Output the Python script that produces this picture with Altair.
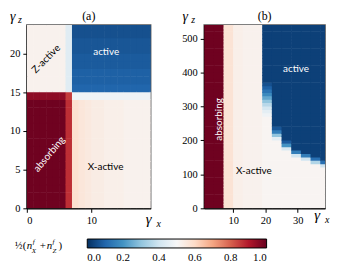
import altair as alt
import pandas as pd

# ---------------- data ----------------
# Panel (a): columns of width 1 (gamma_x), rows of height 1 (gamma_z)
a_cols = list(range(20))
a_rows = list(range(24))
a_low = [0.99, 0.99, 0.99, 0.99, 0.99, 0.99, 0.87,
         0.58, 0.56, 0.55, 0.54, 0.54, 0.53, 0.53, 0.53, 0.52, 0.52, 0.52, 0.52, 0.52]
a_edge = [0.95, 0.95, 0.95, 0.95, 0.95, 0.95, 0.85,
          0.48, 0.48, 0.48, 0.48, 0.48, 0.48, 0.48, 0.48, 0.48, 0.48, 0.48, 0.48, 0.48]
a_zleft = [0.52, 0.52, 0.52, 0.52, 0.52, 0.52, 0.44]
a_blue_rows = [0.10, 0.09, 0.09, 0.08, 0.08, 0.07, 0.07, 0.06, 0.06]  # rows 15..23

# Panel (b): columns of width 3, rows of height 10
b_cols = [1, 4, 7, 10, 13, 16, 19, 22, 25, 28, 31, 34, 37]
b_rows = list(range(0, 540, 10))
b_base = [0.99, 0.99, 0.57, 0.53, 0.52, 0.52, 0.51, 0.51, 0.51, 0.51, 0.51, 0.51, 0.51]
b_edge = [None, None, None, None, None, None, 270, 200, 170, 150, 140, 130, 120]
b_trans = [[], [], [], [], [], [],
           [0.48, 0.45, 0.41, 0.36, 0.30, 0.24, 0.18, 0.13, 0.09, 0.06],
           [0.45, 0.30, 0.15, 0.07],
           [0.42, 0.20, 0.08],
           [0.40, 0.15],
           [0.40, 0.15],
           [0.35, 0.12],
           [0.40, 0.12]]
b_top = 0.03

a_lab_text = ["Z-active", "active", "absorbing", "X-active"]
a_lab_x = [3.0, 12.3, 3.5, 12.2]
a_lab_y = [19.3, 20.2, 7.0, 5.4]
a_lab_angle = [315, 0, 310, 0]
a_lab_color = ["black", "white", "white", "black"]

b_lab_text = ["absorbing", "active", "X-active"]
b_lab_x = [5.6, 29.5, 16.4]
b_lab_y = [262, 411, 110]
b_lab_angle = [270, 0, 0]
b_lab_color = ["white", "white", "black"]

a_xticks = [0, 10]
a_yticks = [0, 5, 10, 15, 20]
b_xticks = [10, 20, 30]
b_yticks = [0, 100, 200, 300, 400, 500]
cbar_ticks = [0.0, 0.2, 0.4, 0.6, 0.8, 1.0]

# RdBu_r colour stops
cmap_stops = [0.0, 0.1, 0.2, 0.3, 0.4, 0.5, 0.6, 0.7, 0.8, 0.9, 1.0]
cmap_colors = ["#053061", "#2166ac", "#4393c3", "#92c5de", "#d1e5f0", "#f7f7f7",
               "#fddbc7", "#f4a582", "#d6604d", "#b2182b", "#67001f"]

# ---------------- tables ----------------
rows = []
for i, c in enumerate(a_cols):
    for r in a_rows:
        if r < 14:
            v = a_low[i]
        elif r == 14:
            v = a_edge[i]
        else:
            v = a_zleft[i] if i < 7 else a_blue_rows[r - 15]
        rows.append({"x0": c, "x1": c + 1, "y0": r, "y1": r + 1, "v": v})
dfa = pd.DataFrame(rows)

rows = []
for i, c in enumerate(b_cols):
    for r in b_rows:
        v = b_base[i]
        e = b_edge[i]
        if e is not None and r >= e:
            k = (r - e) // 10
            v = b_trans[i][k] if k < len(b_trans[i]) else b_top
        rows.append({"x0": c, "x1": c + 3, "y0": r, "y1": r + 10, "v": v})
dfb = pd.DataFrame(rows)

SERIF = "Liberation Serif"

cscale = alt.Scale(domain=cmap_stops, range=cmap_colors, interpolate="rgb")
color = alt.Color("v:Q", title="", scale=cscale,
                  legend=alt.Legend(type="gradient", orient="none", direction="horizontal",
                                    legendX=61, legendY=216,
                                    gradientLength=181, gradientThickness=9,
                                    gradientStrokeColor="black", gradientStrokeWidth=1,
                                    values=cbar_ticks, format=".1f",
                                    labelFont=SERIF, labelFontSize=11,
                                    labelColor="black", labelOffset=4))


def txt(s, x, y, size, italic=False, align="left", baseline="alphabetic"):
    return alt.Chart(pd.DataFrame({"t": [s]})).mark_text(
        font=SERIF, fontSize=size, fontStyle="italic" if italic else "normal",
        align=align, baseline=baseline, color="black").encode(
        x=alt.value(x), y=alt.value(y), text="t:N")


def scales(xdom, ydom, xticks, yticks):
    xs = alt.Scale(domain=xdom, nice=False, zero=False)
    ys = alt.Scale(domain=ydom, nice=False, zero=False)
    xa = alt.Axis(values=xticks, title="", format="d", labelOverlap=False)
    ya = alt.Axis(values=yticks, title="", format="d", labelOverlap=False)
    return xs, ys, xa, ya


def labels(texts, xs, ys, angles, colors, sc):
    xsc, ysc, xa, ya = sc
    layers = []
    for t, x, y, a, c in zip(texts, xs, ys, angles, colors):
        layers.append(alt.Chart(pd.DataFrame({"t": [t], "x0": [x], "y0": [y]})).mark_text(
            font="Lato", fontSize=10, angle=a, color=c, align="center", baseline="middle"
        ).encode(x=alt.X("x0:Q", scale=xsc, axis=xa), y=alt.Y("y0:Q", scale=ysc, axis=ya),
                 text="t:N"))
    return layers


def heat(df, sc):
    xsc, ysc, xa, ya = sc
    return alt.Chart(df).mark_rect(clip=True, x2Offset=0.6, y2Offset=-0.6).encode(
        x=alt.X("x0:Q", scale=xsc, axis=xa),
        x2="x1:Q",
        y=alt.Y("y0:Q", scale=ysc, axis=ya),
        y2="y1:Q",
        color=color,
    )


WA, HA = 125, 185
WB, HB = 122, 185

sa = scales([0, 19.2], [0, 23.7], a_xticks, a_yticks)
sb = scales([1, 38.5], [0, 540], b_xticks, b_yticks)

pa = alt.layer(
    heat(dfa, sa),
    *labels(a_lab_text, a_lab_x, a_lab_y, a_lab_angle, a_lab_color, sa),
    txt("(a)", WA / 2, -5, 12, align="center"),
    txt("γ", -17, -4, 14, True),
    txt("z", -9, -2, 10, True),
    txt("γ", WA - 5, HA + 16, 15, True),
    txt("x", WA + 6, HA + 19, 10, True),
    # colorbar title 1/2 (n_X^f + n_Z^f)
    txt("½", -12, 226, 10),
    txt("(", -4, 226, 11),
    txt("n", 0, 226, 11, True),
    txt("f", 6, 221, 7, True),
    txt("X", 5, 230, 7, True),
    txt("+", 13, 226, 11),
    txt("n", 20, 226, 11, True),
    txt("f", 26, 221, 7, True),
    txt("Z", 26, 230, 7, True),
    txt(")", 32, 226, 11),
).properties(width=WA, height=HA)

pb = alt.layer(
    heat(dfb, sb),
    *labels(b_lab_text, b_lab_x, b_lab_y, b_lab_angle, b_lab_color, sb),
    txt("(b)", WB / 2, -5, 12, align="center"),
    txt("γ", -22, -4, 14, True),
    txt("z", -13, -2, 10, True),
    txt("γ", WB - 11, HB + 12, 15, True),
    txt("x", WB, HB + 15, 10, True),
).properties(width=WB, height=HB)

chart = alt.hconcat(pa, pb, spacing=18).properties(padding=0, background="white").configure_view(
    stroke="#555555", strokeWidth=1.5
).configure_axis(
    domainColor="black", domainWidth=1.2, tickColor="black", tickSize=4, tickWidth=1,
    labelFont=SERIF, labelFontSize=10.5, labelColor="black", grid=False, labelPadding=3
)

chart.save("out.html", embed_options={"renderer": "svg", "actions": False})
